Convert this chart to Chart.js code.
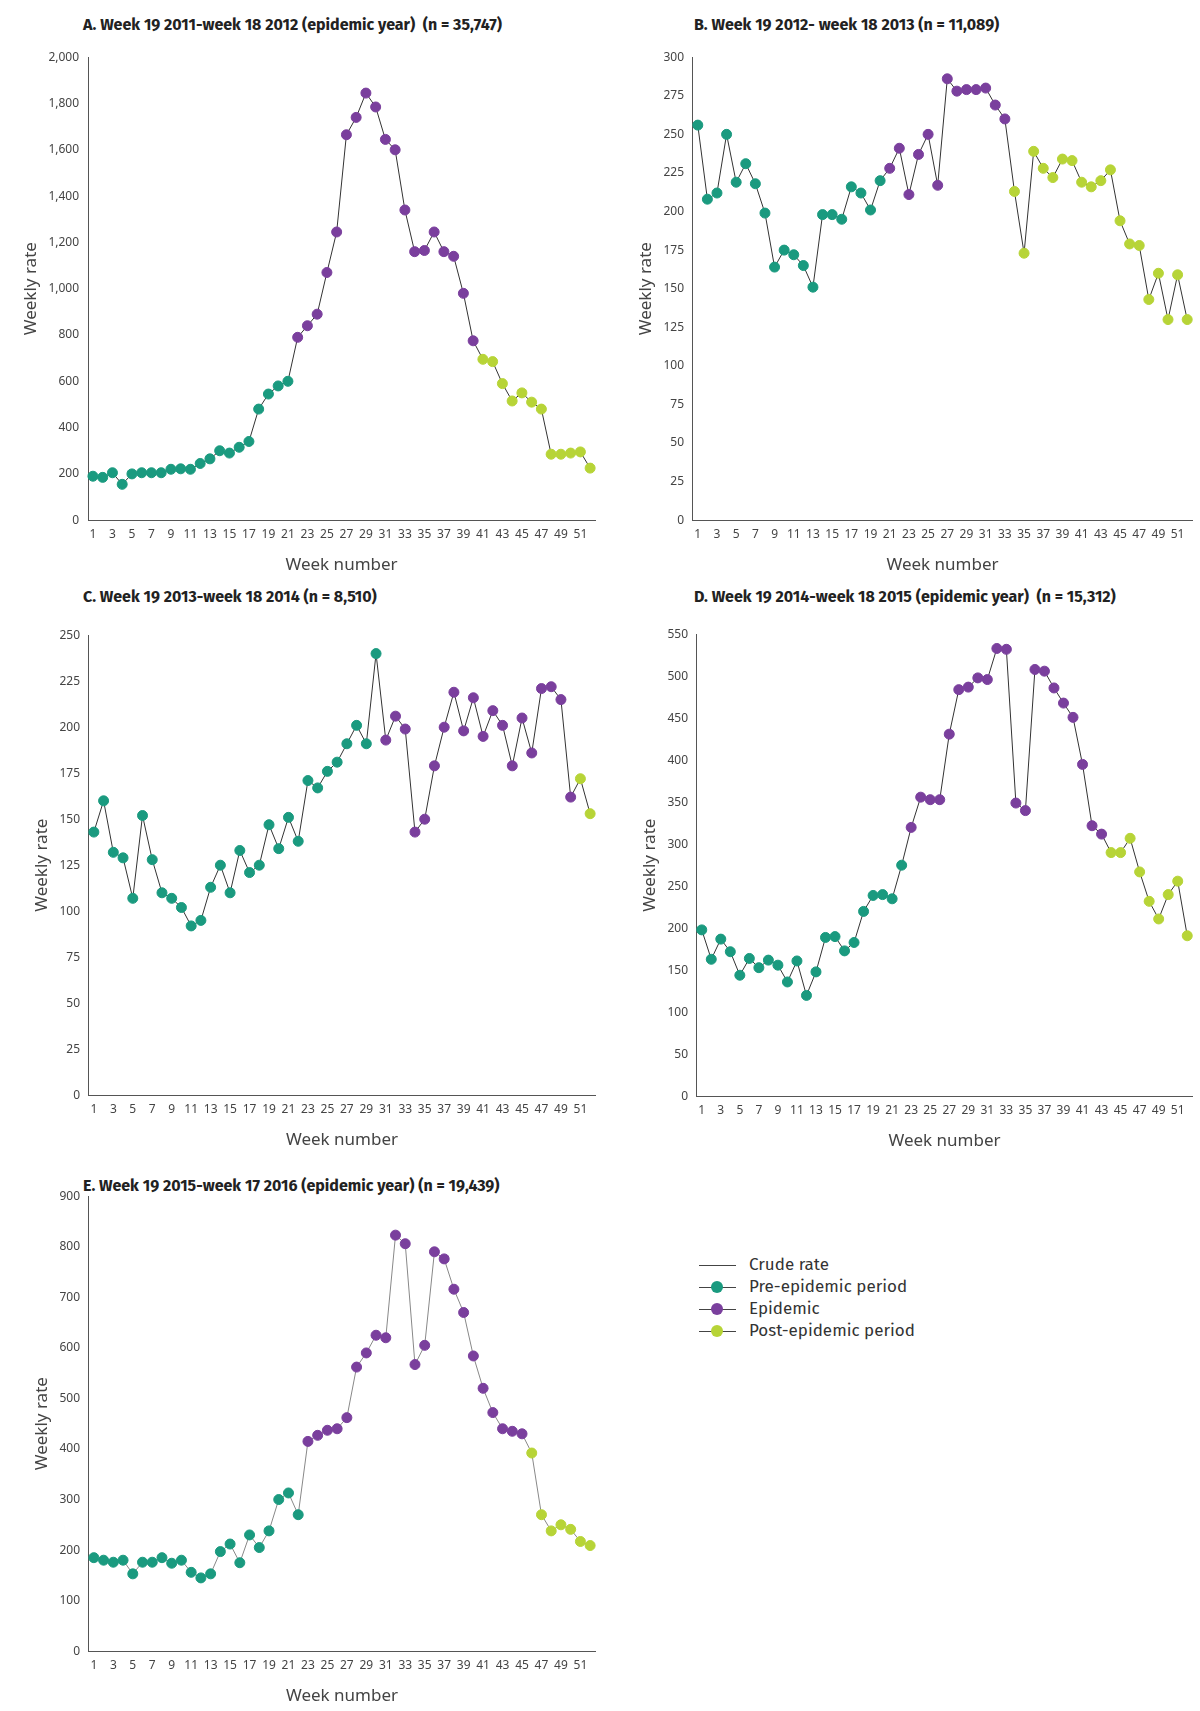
<!DOCTYPE html>
<html>
<head>
<meta charset="utf-8">
<script src="https://cdn.jsdelivr.net/npm/chart.js@4.4.0/dist/chart.umd.min.js"></script>
<style>
  body { margin: 0; background: #fff; font-family: "Fira Sans", "Noto Sans", sans-serif; }
  .panel { position: absolute; }
  .title { position: absolute; font-weight: bold; font-size: 16px; color: #222; white-space: nowrap; }
  .legend { position: absolute; left: 699px; top: 1254px; font-size: 17px; color: #333; }
  .legend div { height: 22px; line-height: 22px; position: relative; padding-left: 50px; }
  .legend .ln { position: absolute; left: 0; top: 11px; width: 37px; border-top: 1px solid #444; }
  .legend .dt { position: absolute; left: 12px; top: 5px; width: 12px; height: 12px; border-radius: 50%; }
</style>
</head>
<body>
<div class="title" style="left:83px;top:15px">A. Week 19 2011-week 18 2012 (epidemic year)&nbsp; (n = 35,747)</div>
<div class="title" style="left:694px;top:15px">B. Week 19 2012- week 18 2013 (n = 11,089)</div>
<div class="title" style="left:83px;top:587px">C. Week 19 2013-week 18 2014 (n = 8,510)</div>
<div class="title" style="left:694px;top:587px">D. Week 19 2014-week 18 2015 (epidemic year)&nbsp; (n = 15,312)</div>
<div class="title" style="left:83px;top:1176px">E. Week 19 2015-week 17 2016 (epidemic year) (n = 19,439)</div>

<div class="panel" style="left:17px;top:47px;width:586px;height:532px"><canvas id="chartA"></canvas></div>
<div class="panel" style="left:632px;top:47px;width:568px;height:532px"><canvas id="chartB"></canvas></div>
<div class="panel" style="left:28px;top:625px;width:575px;height:529px"><canvas id="chartC"></canvas></div>
<div class="panel" style="left:636px;top:624px;width:564px;height:531px"><canvas id="chartD"></canvas></div>
<div class="panel" style="left:28px;top:1186px;width:575px;height:524px"><canvas id="chartE"></canvas></div>

<div class="legend">
  <div><span class="ln"></span>Crude rate</div>
  <div><span class="ln"></span><span class="dt" style="background:#1a9a7f"></span>Pre-epidemic period</div>
  <div><span class="ln"></span><span class="dt" style="background:#7a3f9d"></span>Epidemic</div>
  <div><span class="ln"></span><span class="dt" style="background:#b7d437"></span>Post-epidemic period</div>
</div>

<script>
const weeks = Array.from({length: 52}, (_, i) => String(i + 1));

const ratesA = [190,185,205,155,200,205,205,205,220,222,220,245,265,300,290,315,340,480,545,580,600,790,840,890,1070,1245,1665,1740,1845,1785,1645,1600,1340,1160,1165,1245,1160,1140,980,775,695,685,590,515,550,510,480,285,285,290,295,225];
const ratesB = [256,208,212,250,219,231,218,199,164,175,172,165,151,198,198,195,216,212,201,220,228,241,211,237,250,217,286,278,279,279,280,269,260,213,173,239,228,222,234,233,219,216,220,227,194,179,178,143,160,130,159,130];
const ratesC = [143,160,132,129,107,152,128,110,107,102,92,95,113,125,110,133,121,125,147,134,151,138,171,167,176,181,191,201,191,240,193,206,199,143,150,179,200,219,198,216,195,209,201,179,205,186,221,222,215,162,172,153];
const ratesD = [198,163,187,172,144,164,153,162,156,136,161,120,148,189,190,173,183,220,239,240,235,275,320,356,353,353,431,484,487,498,496,533,532,349,340,508,506,486,468,451,395,322,312,290,290,307,267,232,211,240,256,191];
const ratesE = [185,180,176,180,153,176,176,185,174,180,156,145,153,197,212,175,230,205,238,300,313,270,415,427,437,440,462,562,590,625,620,823,806,567,605,790,776,716,670,584,520,472,440,435,430,392,270,238,250,241,217,209];

// first epidemic week and first post-epidemic week per panel
const epidemicStart = {A: 22, B: 21, C: 31, D: 23, E: 23};
const postStart = {A: 41, B: 34, C: 51, D: 44, E: 46};

const yMax = {A: 2000, B: 300, C: 250, D: 550, E: 900};
const yStep = {A: 200, B: 25, C: 25, D: 50, E: 100};

const PRE = '#1a9a7f', EPI = '#7a3f9d', POST = '#b7d437';

function makeChart(id, key, rates) {
    const colors = rates.map((_, i) => {
        const w = i + 1;
        if (w >= postStart[key]) return POST;
        if (w >= epidemicStart[key]) return EPI;
        return PRE;
    });
    return new Chart(document.getElementById(id), {
        type: 'line',
        data: {
            labels: weeks,
            datasets: [{
                data: rates,
                borderColor: key === 'E' ? '#888' : '#333',
                borderWidth: 1,
                pointRadius: 5,
                pointBackgroundColor: colors,
                pointBorderColor: colors,
                tension: 0
            }]
        },
        options: {
            responsive: true,
            maintainAspectRatio: false,
            animation: false,
            plugins: { legend: { display: false }, tooltip: { enabled: false } },
            layout: { padding: { top: 10, right: 8 } },
            scales: {
                x: {
                    offset: true,
                    grid: { display: false, drawTicks: true, tickLength: 4, color: '#555' },
                    border: { color: '#555' },
                    ticks: {
                        autoSkip: false, maxRotation: 0, color: '#444',
                        font: { size: 12, family: 'Noto Sans' },
                        callback: function(v, i) { return i % 2 === 0 ? weeks[i] : ''; }
                    },
                    title: { display: true, text: 'Week number', color: '#444', font: { size: 17, family: 'Noto Sans' }, padding: { top: 10 } }
                },
                y: {
                    min: 0, max: yMax[key],
                    grid: { display: false, tickLength: 6, color: '#555' },
                    border: { color: '#555' },
                    ticks: {
                        stepSize: yStep[key], color: '#444',
                        font: { size: 12, family: 'Noto Sans' },
                        callback: function(v) { return v.toLocaleString('en-US'); }
                    },
                    title: { display: true, text: 'Weekly rate', color: '#444', font: { size: 17, family: 'Noto Sans' } }
                }
            }
        }
    });
}

makeChart('chartA', 'A', ratesA);
makeChart('chartB', 'B', ratesB);
makeChart('chartC', 'C', ratesC);
makeChart('chartD', 'D', ratesD);
makeChart('chartE', 'E', ratesE);
</script>
</body>
</html>
